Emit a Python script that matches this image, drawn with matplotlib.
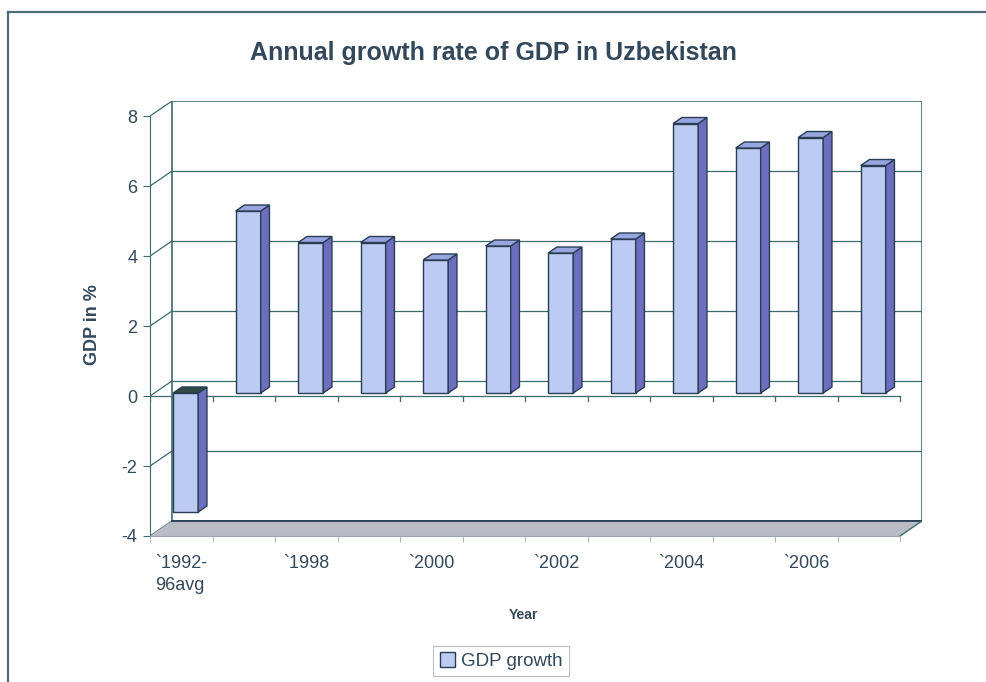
import matplotlib
matplotlib.use('Agg')
import matplotlib.pyplot as plt
from matplotlib.patches import Polygon
from matplotlib.lines import Line2D

# GDP growth by year (%), first value is the 1992-96 average
categories = ['`1992-\n96avg', '`1997', '`1998', '`1999', '`2000', '`2001',
              '`2002', '`2003', '`2004', '`2005', '`2006', '`2007']
growth = [-3.4, 5.2, 4.3, 4.3, 3.8, 4.2, 4.0, 4.4, 7.7, 7.0, 7.3, 6.5]
y_ticks = [-4, -2, 0, 2, 4, 6, 8]

plt.rcParams['font.family'] = ['Liberation Sans', 'DejaVu Sans']
plt.rcParams['axes.unicode_minus'] = False
text_col = '#33485a'
grid_col = '#3d6b6b'
edge_col = '#283c52'
front_col = '#bccbf2'
side_col = '#6e6ebf'
top_col = '#98a6e0'

# depth offset of the back wall, in data units
DX = 0.352
DY = 0.43
n = len(categories)
ymin, ymax = y_ticks[0], y_ticks[-1]

fig = plt.figure(figsize=(9.86, 6.82), dpi=100)
ax = fig.add_axes([150 / 986, 146 / 682, 772 / 986, 435 / 682])
ax.set_xlim(-0.5, n - 0.5 + DX)
ax.set_ylim(ymin, ymax + DY)

# back wall + gridlines
ax.add_patch(Polygon([(-0.5 + DX, ymin + DY), (n - 0.5 + DX, ymin + DY),
                      (n - 0.5 + DX, ymax + DY), (-0.5 + DX, ymax + DY)],
                     closed=True, facecolor='white', edgecolor=grid_col, lw=1.2, zorder=1))
for t in y_ticks[1:-1]:
    ax.plot([-0.5 + DX, n - 0.5 + DX], [t + DY, t + DY], color=grid_col, lw=0.9, zorder=1)
# side wall diagonals
for t in y_ticks:
    ax.plot([-0.5, -0.5 + DX], [t, t + DY], color=grid_col, lw=0.9, zorder=1)

# floor
ax.add_patch(Polygon([(-0.5, ymin), (n - 0.5, ymin), (n - 0.5 + DX, ymin + DY),
                      (-0.5 + DX, ymin + DY)], closed=True, facecolor='#b9bcc6',
                     edgecolor='none', zorder=2))
ax.plot([-0.5 + DX, n - 0.5 + DX], [ymin + DY, ymin + DY], color=edge_col, lw=1.3, zorder=2)
ax.plot([n - 0.5, n - 0.5 + DX], [ymin, ymin + DY], color=grid_col, lw=1.0, zorder=2)

# category axis line at zero with its ticks
ax.plot([-0.5, n - 0.5], [0, 0], color=grid_col, lw=0.9, zorder=2)
for k in range(n + 1):
    ax.plot([k - 0.5, k - 0.5], [0, -0.13], color=grid_col, lw=0.9, zorder=2)

# bars: front face via ax.bar, side and top faces as polygons
f0, f1 = 0.2, 0.6
w = 0.4
s = f0 * DY
xs = [i + f0 * DX for i in range(n)]
bars = ax.bar(xs, growth, width=w, bottom=s, color=front_col, edgecolor=edge_col,
              lw=1.0, zorder=3, label='GDP growth')
ddx, ddy = (f1 - f0) * DX, (f1 - f0) * DY
for x, v in zip(xs, growth):
    x0, x1 = x - w / 2, x + w / 2
    ax.add_patch(Polygon([(x1, s), (x1, v + s), (x1 + ddx, v + s + ddy), (x1 + ddx, s + ddy)],
                         closed=True, facecolor=side_col, edgecolor=edge_col, lw=1.0, zorder=3))
    top = max(v, 0) + s
    ax.add_patch(Polygon([(x0, top), (x1, top), (x1 + ddx, top + ddy), (x0 + ddx, top + ddy)],
                         closed=True, facecolor=top_col if v > 0 else '#2e4a44',
                         edgecolor=edge_col, lw=1.0, zorder=3))

# axes styling
for side in ['top', 'right']:
    ax.spines[side].set_visible(False)
ax.spines['left'].set_bounds(ymin, ymax)
ax.spines['bottom'].set_bounds(-0.5, n - 0.5)
ax.spines['left'].set_color(grid_col)
ax.spines['bottom'].set_color('#a0a4ae')
ax.set_yticks(y_ticks)
ax.set_xticks(range(n))
ax.set_xticklabels([c if i % 2 == 0 else '' for i, c in enumerate(categories)],
                   multialignment='left', linespacing=1.35)
ax.set_xticks([k - 0.5 for k in range(n + 1)], minor=True)
ax.tick_params(axis='y', direction='out', length=5, color=grid_col, labelsize=13,
               labelcolor=text_col, pad=4)
ax.tick_params(axis='x', which='major', length=0, labelsize=13, labelcolor=text_col, pad=14)
ax.tick_params(axis='x', which='minor', direction='out', length=4, color='#a0a4ae')

ax.set_ylabel('GDP in %', fontsize=13, fontweight='bold', color=text_col)
ax.yaxis.set_label_coords(-0.063, 0.485)
ax.set_xlabel('Year', fontsize=10, fontweight='bold', color=text_col)
ax.xaxis.set_label_coords(0.484, -0.165)

fig.text(0.5, 0.922, 'Annual growth rate of GDP in Uzbekistan', ha='center', va='center',
         fontsize=18, fontweight='bold', color=text_col)

leg = ax.legend(handles=[bars], loc='center', bbox_to_anchor=(501 / 986, 1 - 661 / 682),
                bbox_transform=fig.transFigure, fancybox=False, fontsize=13.5,
                handlelength=0.8, handleheight=0.8, handletextpad=0.3, borderpad=0.35,
                labelcolor=text_col)
leg.get_frame().set_edgecolor('#a8b0b0')
leg.get_frame().set_linewidth(0.8)

# outer chart border
fig.add_artist(Line2D([8 / 986, 8 / 986], [0, 1 - 12 / 682], color='#4d6b78', lw=1.6))
fig.add_artist(Line2D([8 / 986, 1], [1 - 12 / 682, 1 - 12 / 682], color='#4d6b78', lw=1.6))

fig.savefig('out.png', dpi=100)
